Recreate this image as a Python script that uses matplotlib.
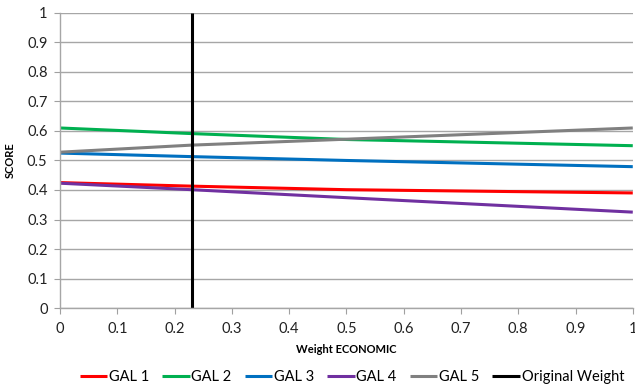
import matplotlib.pyplot as plt
import numpy as np

plt.rcParams['font.family'] = ['Lato', 'DejaVu Sans']

weights = [0, 0.23, 0.5, 1]

gal1 = [0.425, 0.413, 0.401, 0.390]
gal2 = [0.610, 0.591, 0.571, 0.550]
gal3 = [0.525, 0.513, 0.500, 0.479]
gal4 = [0.423, 0.401, 0.374, 0.325]
gal5 = [0.528, 0.552, 0.572, 0.610]

original_weight = 0.23

names = ['GAL 1', 'GAL 2', 'GAL 3', 'GAL 4', 'GAL 5']
colors = ['#FF0000', '#00B050', '#0070C0', '#7030A0', '#808080']

fig = plt.figure(figsize=(6.35, 3.89), dpi=100)
ax = fig.add_axes([0.0945, 0.208, 0.902, 0.759])

for vals, name, c in zip([gal1, gal2, gal3, gal4, gal5], names, colors):
    ax.plot(weights, vals, color=c, lw=2.2, label=name, solid_capstyle='butt')
ax.plot([original_weight, original_weight], [0, 1], color='black', lw=2.2,
        label='Original Weight', solid_capstyle='butt')

ax.set_xlim(0, 1)
ax.set_ylim(0, 1)
ax.set_xticks(np.arange(0, 1.01, 0.1))
ax.set_yticks(np.arange(0, 1.01, 0.1))
ax.set_xticklabels(['0', '0.1', '0.2', '0.3', '0.4', '0.5', '0.6', '0.7', '0.8', '0.9', '1'])
ax.set_yticklabels(['0', '0.1', '0.2', '0.3', '0.4', '0.5', '0.6', '0.7', '0.8', '0.9', '1'])
ax.tick_params(labelsize=10.5, colors='#A0A0A0', labelcolor='#222222', length=4)
ax.tick_params(axis='x', pad=6)
ax.tick_params(axis='y', pad=5)
ax.grid(axis='y', color='#A6A6A6', lw=1)
ax.set_axisbelow(True)
for s in ['top', 'right']:
    ax.spines[s].set_visible(False)
for s in ['left', 'bottom']:
    ax.spines[s].set_color('#A6A6A6')
    ax.spines[s].set_linewidth(1)

ax.set_xlabel('Weight ECONOMIC', fontsize=8, fontweight='bold', labelpad=6)
ax.set_ylabel('SCORE', fontsize=8, fontweight='bold', labelpad=8)

fig.legend(loc='center', bbox_to_anchor=(0.554, 0.03), ncol=6, frameon=False,
           fontsize=10.5, handlelength=1.9, handletextpad=0.1, columnspacing=0.9)

fig.savefig('out.png', dpi=100)
